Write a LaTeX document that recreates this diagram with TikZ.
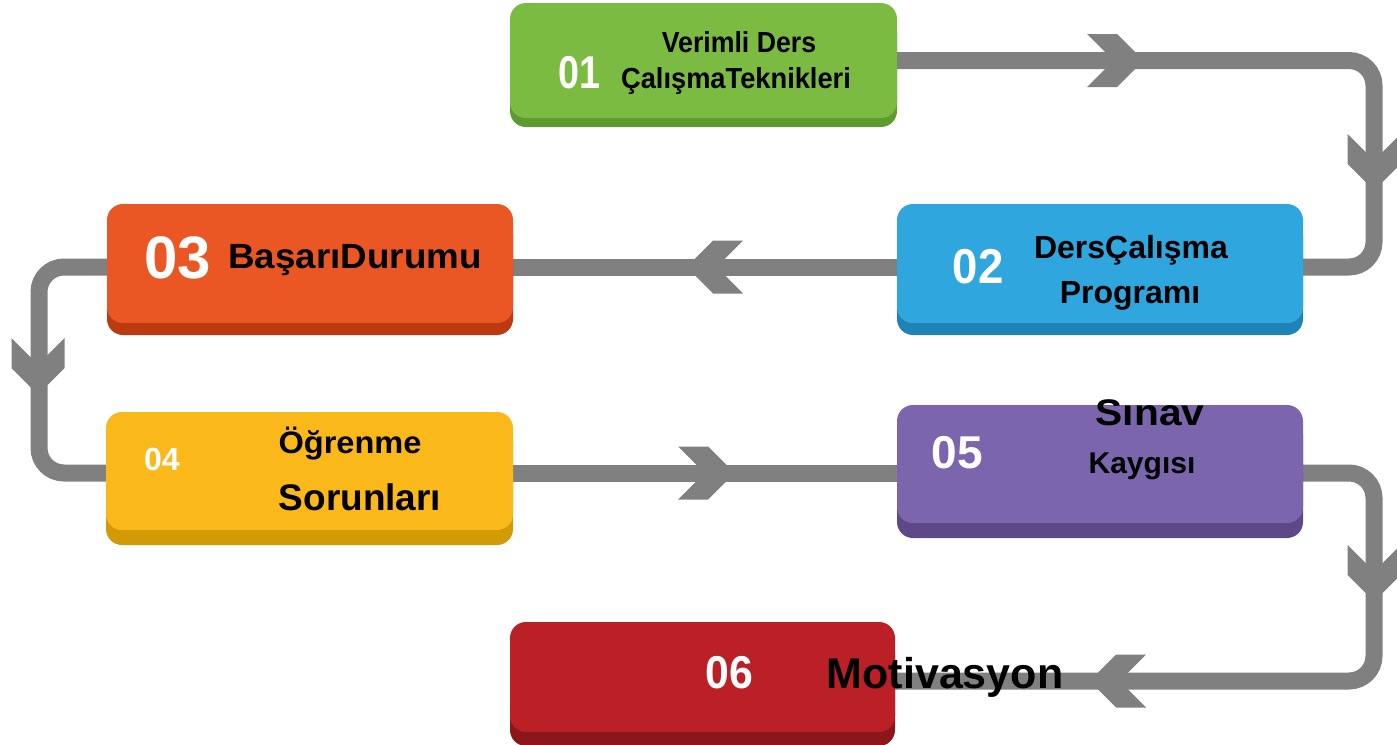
\documentclass[tikz,border=0pt]{standalone}
\usepackage{fontspec}
\setmainfont{Liberation Sans}
\usepackage{graphicx}
\pgfdeclarelayer{bg}
\pgfsetlayers{bg,main}
\definecolor{pipegray}{HTML}{808080}
\definecolor{gface}{HTML}{7CBB42}\definecolor{gdark}{HTML}{5E9B2F}
\definecolor{bface}{HTML}{2FA6DE}\definecolor{bdark}{HTML}{1D84B5}
\definecolor{oface}{HTML}{EB5724}\definecolor{odark}{HTML}{BC3A10}
\definecolor{yface}{HTML}{FBB81A}\definecolor{ydark}{HTML}{D39A08}
\definecolor{pface}{HTML}{7B66AD}\definecolor{pdark}{HTML}{5D4888}
\definecolor{rface}{HTML}{BA2026}\definecolor{rdark}{HTML}{8B171B}
\tikzset{
  pipe/.style={draw=pipegray, line width=17pt, rounded corners=25pt},
  facebox/.style={rounded corners=16pt, inner sep=0pt, draw=none},
  num/.style={anchor=base, inner sep=0pt, text=white, font=\bfseries},
  lbl/.style={anchor=base, inner sep=0pt, text=black, font=\bfseries},
  chev/.pic={\fill[pipegray] (0,-26.5) -- (30,-26.5) -- (56.5,0) -- (30,26.5) -- (0,26.5) -- (26.5,0) -- cycle;}
}
% name, x1, ytop, x2, yface, ybottom, face, dark
\newcommand\mybox[8]{%
  \fill[#8, rounded corners=16pt] (#2,{#3+14}) rectangle (#4,#6);
  \node[facebox, fill=#7, minimum width={(#4-#2)*1pt}, minimum height={(#5-#3)*1pt}]
    (#1) at ({(#2+#4)/2},{(#3+#5)/2}) {};
}
\newcommand\fs[1]{\fontsize{#1}{#1}\selectfont}
\begin{document}
\begin{tikzpicture}[x=1pt,y=-1pt]
\useasboundingbox (0,0) rectangle (1397,744);

\mybox{b1}{510}{3}{897}{118}{127}{gface}{gdark}
\mybox{b2}{897}{204}{1303}{323}{335}{bface}{bdark}
\mybox{b3}{107}{204}{513}{323}{335}{oface}{odark}
\mybox{b4}{106}{412}{513}{530}{545}{yface}{ydark}
\mybox{b5}{897}{405}{1303}{523}{538}{pface}{pdark}
\mybox{b6}{510}{622}{895}{732}{746}{rface}{rdark}

\begin{pgfonlayer}{bg}
  \draw[pipe] (b1.east) -- (1374,60.5) -- (1374,267) -- ([yshift=-3.5pt]b2.east);
  \draw[pipe] ([yshift=-3.5pt]b2.west) -- ([yshift=-3.5pt]b3.east);
  \draw[pipe] ([yshift=-3.5pt]b3.west) -- (39,267) -- (39,473) -- ([yshift=-2pt]b4.west);
  \draw[pipe] ([yshift=-2pt]b4.east) -- ([yshift=-9pt]b5.west);
  \draw[pipe] ([yshift=-9pt]b5.east) -- (1374,473) -- (1374,681) -- ([yshift=-4pt]b6.east);
  \pic at (1087,60.5) {chev};
  \pic[rotate=-90] at (1374,134) {chev};
  \pic[rotate=180] at (743,267) {chev};
  \pic[rotate=-90] at (38,338) {chev};
  \pic at (678,473) {chev};
  \pic[rotate=-90] at (1374,545) {chev};
  \pic[rotate=180] at (1146,681) {chev};
\end{pgfonlayer}

% box 01
\node[num, font=\fs{46}\bfseries] (n1) at (579,88) {\scalebox{0.82}[1]{01}};
\node[lbl, font=\fs{29}\bfseries] (t1a) at (739,52) {\scalebox{0.92}[1]{Verimli Ders}};
\node[lbl, font=\fs{29}\bfseries] (t1b) at (736,88) {\scalebox{0.94}[1]{ÇalışmaTeknikleri}};
% box 02
\node[num, font=\fs{49}\bfseries] (n2) at (978,283) {\scalebox{0.93}[1]{02}};
\node[lbl, font=\fs{32}\bfseries] (t2a) at (1131,258) {DersÇalışma};
\node[lbl, font=\fs{32}\bfseries] (t2b) at (1130,303) {Programı};
% box 03
\node[num, font=\fs{60}\bfseries] (n3) at (178,278) {03};
\node[lbl, font=\fs{35}\bfseries] (t3) at (355,268) {\scalebox{1.05}[1]{BaşarıDurumu}};
% box 04
\node[num, font=\fs{32}\bfseries] (n4) at (162,470) {04};
\node[lbl, font=\fs{31}\bfseries] (t4a) at (350,453) {\scalebox{1.05}[1]{Öğrenme}};
\node[lbl, font=\fs{37}\bfseries] (t4b) at (360,510) {Sorunları};
% box 05
\node[num, font=\fs{46}\bfseries] (n5) at (957,468) {05};
\node[lbl, font=\fs{37}\bfseries] (t5a) at (1150,425) {\scalebox{1.1}[1]{Sınav}};
\node[lbl, font=\fs{30}\bfseries] (t5b) at (1142,473) {Kaygısı};
% box 06
\node[num, font=\fs{46}\bfseries] (n6) at (729,688) {\scalebox{0.93}[1]{06}};
\node[lbl, font=\fs{43}\bfseries] (t6) at (945,688) {Motivasyon};
\end{tikzpicture}
\end{document}
